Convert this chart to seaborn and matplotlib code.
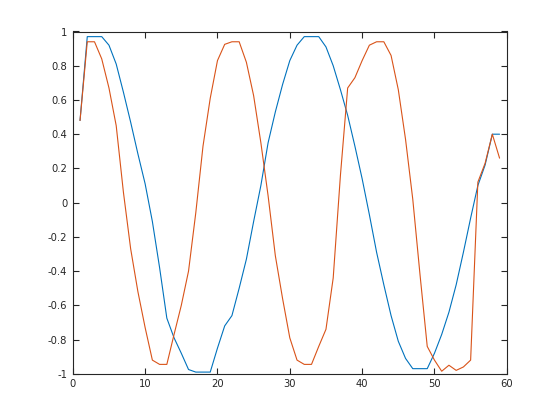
import pandas as pd
import matplotlib
matplotlib.use("Agg")
import matplotlib.pyplot as plt
import seaborn as sns

# sample index
x = list(range(1, 60))

# first series (blue)
blue = [0.48, 0.97, 0.97, 0.97, 0.92, 0.81, 0.645, 0.47, 0.285, 0.11,
        -0.11, -0.38, -0.675, -0.79, -0.88, -0.975, -0.99, -0.99, -0.99, -0.85,
        -0.72, -0.66, -0.50, -0.33, -0.11, 0.10, 0.35, 0.53, 0.69, 0.83,
        0.92, 0.97, 0.97, 0.97, 0.91, 0.80, 0.66, 0.51, 0.33, 0.14,
        -0.07, -0.29, -0.48, -0.66, -0.81, -0.91, -0.97, -0.97, -0.97, -0.88,
        -0.77, -0.64, -0.48, -0.29, -0.09, 0.10, 0.22, 0.40, 0.40]

# second series (orange)
orange = [0.48, 0.94, 0.94, 0.84, 0.67, 0.45, 0.06, -0.27, -0.52, -0.73,
          -0.92, -0.945, -0.945, -0.77, -0.60, -0.40, -0.06, 0.33, 0.61, 0.83,
          0.925, 0.94, 0.94, 0.82, 0.625, 0.35, 0.04, -0.31, -0.56, -0.79,
          -0.92, -0.945, -0.945, -0.84, -0.74, -0.44, 0.16, 0.67, 0.73, 0.83,
          0.92, 0.94, 0.94, 0.86, 0.66, 0.37, 0.02, -0.42, -0.84, -0.92,
          -0.985, -0.95, -0.98, -0.96, -0.92, 0.12, 0.23, 0.40, 0.26]

x_ticks = [0, 10, 20, 30, 40, 50, 60]
y_ticks = [-1, -0.8, -0.6, -0.4, -0.2, 0, 0.2, 0.4, 0.6, 0.8, 1]
y_labels = ['-1', '-0.8', '-0.6', '-0.4', '-0.2', '0', '0.2', '0.4', '0.6', '0.8', '1']

df = pd.DataFrame({'x': x, 'blue': blue, 'orange': orange})

sns.set_style("white")
plt.rcParams['font.family'] = ['DejaVu Sans']

fig = plt.figure(figsize=(5.6, 4.2), dpi=100)
ax = fig.add_axes([0.13, 0.11, 0.775, 0.815])

sns.lineplot(data=df, x='x', y='blue', ax=ax, color='#0072BD', linewidth=0.8)
sns.lineplot(data=df, x='x', y='orange', ax=ax, color='#D95319', linewidth=0.8)

ax.set_xlim(0, 60)
ax.set_ylim(-1, 1)
ax.set_xticks(x_ticks)
ax.set_xticklabels([str(t) for t in x_ticks])
ax.set_yticks(y_ticks)
ax.set_yticklabels(y_labels)
ax.set_xlabel('')
ax.set_ylabel('')

for side in ax.spines.values():
    side.set_visible(True)
    side.set_color('#262626')
    side.set_linewidth(0.8)

ax.tick_params(direction='in', length=4, width=0.8, color='#262626',
               labelcolor='#262626', labelsize=7.2, top=True, right=True,
               left=True, bottom=True, pad=4)

fig.savefig('out.png', dpi=100)
